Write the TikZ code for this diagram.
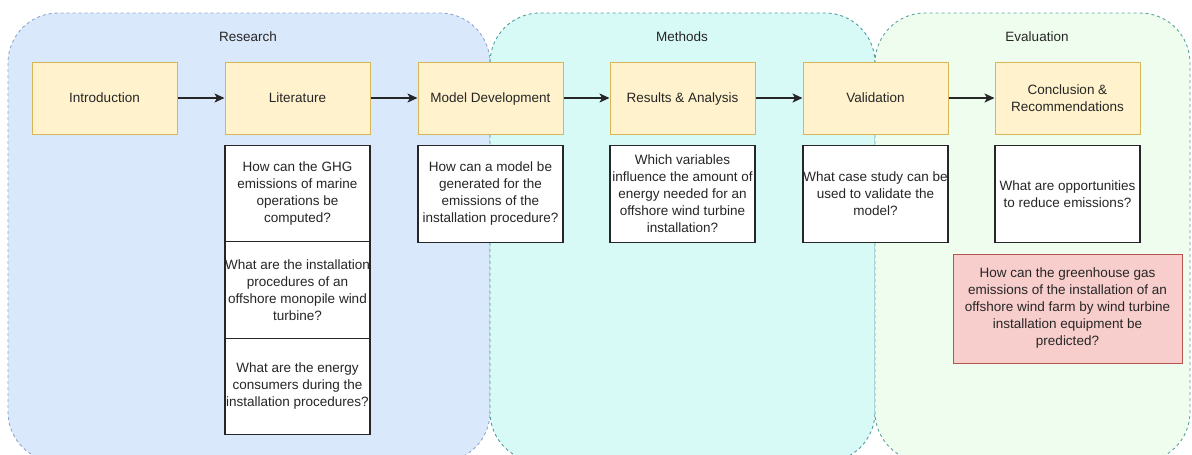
\documentclass[tikz,border=0pt]{standalone}
\usepackage{fontspec}
\setmainfont{Liberation Sans}
\usetikzlibrary{arrows.meta}
\definecolor{resfill}{HTML}{DAE8FC}
\definecolor{resline}{HTML}{8FA6CC}
\definecolor{metfill}{HTML}{D8FAF7}
\definecolor{metline}{HTML}{4E9C9C}
\definecolor{evafill}{HTML}{EFFDEF}
\definecolor{evaline}{HTML}{5FA3A0}
\definecolor{yfill}{HTML}{FFF2CC}
\definecolor{yline}{HTML}{D6B656}
\definecolor{rfill}{HTML}{F8CECC}
\definecolor{rline}{HTML}{B85450}
\definecolor{txt}{HTML}{262626}
\begin{document}
\begin{tikzpicture}[x=1pt,y=-1pt,
  every node/.style={font=\fontsize{13.5pt}{17pt}\selectfont, text=txt},
  group/.style={line width=0.9pt, dash pattern=on 3pt off 3pt, rounded corners=50pt},
  grouplabel/.style={inner sep=0pt},
  ybox/.style={draw=yline, fill=yfill, line width=1pt, minimum width=145pt, minimum height=72pt, align=center, inner sep=0pt},
  oneline/.style={text height=11.3pt, text depth=1.7pt},
  qbox/.style={draw=txt, fill=white, line width=1.1pt, minimum width=145pt, minimum height=96.5pt, align=center, inner sep=0pt},
  rbox/.style={draw=rline, fill=rfill, line width=1pt, minimum width=229pt, minimum height=109pt, align=center, inner sep=0pt},
  flow/.style={line width=1.4pt, draw=txt, -{Stealth[length=10pt,width=9pt,inset=2.5pt]}}
]
\useasboundingbox (0,0) rectangle (1192,455);
\begin{scope}
\clip (0,0) rectangle (1192,455);
\draw[group, draw=resline, fill=resfill] (8,13) rectangle (490,462);
\draw[group, draw=metline, fill=metfill] (490,13) rectangle (875,462);
\draw[group, draw=evaline, fill=evafill] (875,13) rectangle (1190,462);
\end{scope}
\node[grouplabel] (lres) at (248,37) {Research};
\node[grouplabel] (lmet) at (682,37) {Methods};
\node[grouplabel] (leva) at (1037,37) {Evaluation};

\node[ybox, oneline] (intro) at (104.5,98) {Introduction};
\node[ybox, oneline] (lit) at (297.5,98) {Literature};
\node[ybox, oneline] (model) at (490.5,98) {Model Development};
\node[ybox, oneline] (res) at (682.5,98) {Results \& Analysis};
\node[ybox, oneline] (val) at (875.5,98) {Validation};
\node[ybox] (conc) at (1067.5,98) {Conclusion \&\\Recommendations};

\draw[flow] (intro) -- (lit);
\draw[flow] (lit) -- (model);
\draw[flow] (model) -- (res);
\draw[flow] (res) -- (val);
\draw[flow] (val) -- (conc);

\node[qbox] (q1) at (297.5,194) {How can the GHG\\emissions of marine\\operations be\\computed?};
\node[qbox] (q2) at (297.5,290) {What are the installation\\procedures of an\\offshore monopile wind\\turbine?};
\node[qbox] (q3) at (297.5,386.5) {What are the energy\\consumers during the\\installation procedures?};
\node[qbox] (q4) at (490.5,194) {How can a model be\\generated for the\\emissions of the\\installation procedure?};
\node[qbox] (q5) at (682.5,194) {Which variables\\influence the amount of\\energy needed for an\\offshore wind turbine\\installation?};
\node[qbox] (q6) at (875.5,194) {What case study can be\\used to validate the\\model?};
\node[qbox] (q7) at (1067.5,194) {What are opportunities\\to reduce emissions?};
\node[rbox] (main) at (1067.5,308.5) {How can the greenhouse gas\\emissions of the installation of an\\offshore wind farm by wind turbine\\installation equipment be\\predicted?};
\end{tikzpicture}
\end{document}
